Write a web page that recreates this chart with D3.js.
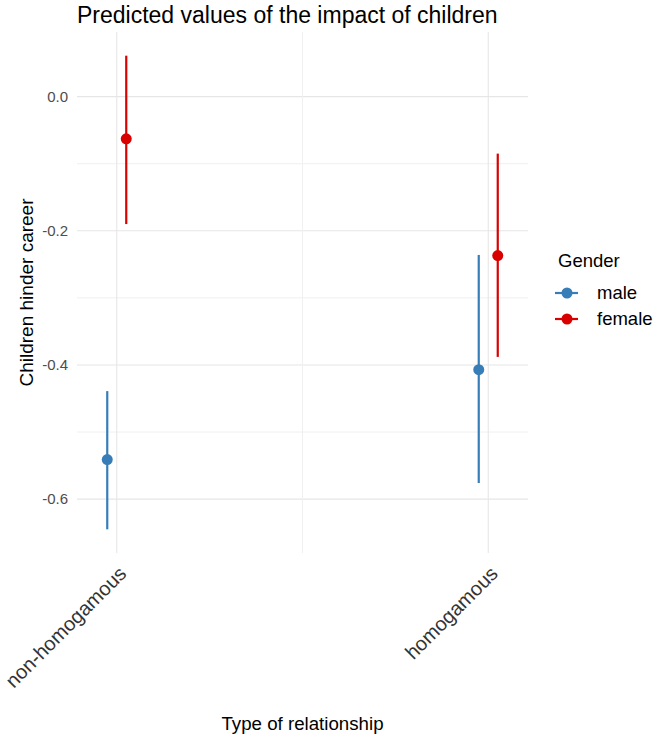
<!DOCTYPE html>
<html>
<head>
<meta charset="utf-8">
<script src="https://cdn.jsdelivr.net/npm/d3@7"></script>
<style>
  body { margin: 0; background: #fff; }
  text { font-family: "Liberation Sans", Arial, sans-serif; }
</style>
</head>
<body>
<div id="chart"></div>
<script>
// Data
const relTypes = ["non-homogamous", "homogamous"];
const genders = ["male", "female"];
const maleFit = [-0.541, -0.407];
const maleLow = [-0.645, -0.576];
const maleHigh = [-0.439, -0.236];
const femaleFit = [-0.063, -0.237];
const femaleLow = [-0.190, -0.388];
const femaleHigh = [0.061, -0.085];
const yTicks = [0, -0.2, -0.4, -0.6];
const yMinor = [-0.1, -0.3, -0.5];
const genderColors = ["#377eb8", "#d90000"];

const width = 660, height = 738;
const panel = { left: 77, right: 528, top: 32, bottom: 553 };

const svg = d3.select("#chart").append("svg")
    .attr("width", width)
    .attr("height", height);

// rows for drawing
const series = [
    { gender: "male", fit: maleFit, low: maleLow, high: maleHigh },
    { gender: "female", fit: femaleFit, low: femaleLow, high: femaleHigh }
];
const rows = series.flatMap(s => relTypes.map((r, i) => ({
    rel: r, gender: s.gender, fit: s.fit[i], low: s.low[i], high: s.high[i]
})));

const x = d3.scalePoint()
    .domain(relTypes)
    .range([panel.left, panel.right])
    .padding(0.107);

const dodge = d3.scalePoint()
    .domain(genders)
    .range([-9.5, 9.5]);

// 5% expansion like ggplot
const lo = d3.min(rows, d => d.low), hi = d3.max(rows, d => d.high);
const pad = (hi - lo) * 0.05;
const y = d3.scaleLinear()
    .domain([lo - pad, hi + pad])
    .range([panel.bottom, panel.top]);

const color = d3.scaleOrdinal().domain(genders).range(genderColors);

// grid
const grid = svg.append("g");
grid.selectAll(".ymin").data(yMinor).join("line")
    .attr("x1", panel.left).attr("x2", panel.right)
    .attr("y1", d => y(d)).attr("y2", d => y(d))
    .attr("stroke", "#f0f0f0").attr("stroke-width", 1);
grid.selectAll(".ymaj").data(yTicks).join("line")
    .attr("x1", panel.left).attr("x2", panel.right)
    .attr("y1", d => y(d)).attr("y2", d => y(d))
    .attr("stroke", "#e6e6e6").attr("stroke-width", 1.1);
// minor vertical line between categories
grid.append("line")
    .attr("x1", (x(relTypes[0]) + x(relTypes[1])) / 2)
    .attr("x2", (x(relTypes[0]) + x(relTypes[1])) / 2)
    .attr("y1", panel.top).attr("y2", panel.bottom)
    .attr("stroke", "#f0f0f0").attr("stroke-width", 1);
grid.selectAll(".xmaj").data(relTypes).join("line")
    .attr("x1", d => x(d)).attr("x2", d => x(d))
    .attr("y1", panel.top).attr("y2", panel.bottom)
    .attr("stroke", "#e6e6e6").attr("stroke-width", 1.1);

// y axis
const fmt = d => d3.format(".1f")(d).replace("\u2212", "-");
const yAxis = svg.append("g")
    .attr("transform", `translate(${panel.left},0)`)
    .call(d3.axisLeft(y).tickValues(yTicks).tickSize(0).tickPadding(9).tickFormat(fmt));
yAxis.select(".domain").remove();
yAxis.selectAll("text")
    .attr("fill", "#4d4d4d")
    .style("font-size", "15px")
    .style("font-family", "Liberation Sans, Arial, sans-serif");

// x tick labels, rotated
svg.append("g").selectAll("text").data(relTypes).join("text")
    .attr("transform", d => `translate(${x(d) + 1},${panel.bottom + 12}) rotate(-45)`)
    .attr("text-anchor", "end")
    .attr("dy", "0.7em")
    .attr("fill", "#333")
    .style("font-size", "20px")
    .text(d => d);

// error bars and points
const marks = svg.append("g");
marks.selectAll("line").data(rows).join("line")
    .attr("x1", d => x(d.rel) + dodge(d.gender))
    .attr("x2", d => x(d.rel) + dodge(d.gender))
    .attr("y1", d => y(d.low))
    .attr("y2", d => y(d.high))
    .attr("stroke", d => color(d.gender))
    .attr("stroke-width", 2.2);
marks.selectAll("circle").data(rows).join("circle")
    .attr("cx", d => x(d.rel) + dodge(d.gender))
    .attr("cy", d => y(d.fit))
    .attr("r", 5.5)
    .attr("fill", d => color(d.gender));

// titles
svg.append("text")
    .attr("x", panel.left)
    .attr("y", 23)
    .style("font-size", "23px")
    .attr("fill", "#000")
    .text("Predicted values of the impact of children");

svg.append("text")
    .attr("x", (panel.left + panel.right) / 2)
    .attr("y", 730)
    .attr("text-anchor", "middle")
    .style("font-size", "18.7px")
    .text("Type of relationship");

svg.append("text")
    .attr("transform", `translate(33,${(panel.top + panel.bottom) / 2}) rotate(-90)`)
    .attr("text-anchor", "middle")
    .style("font-size", "19px")
    .text("Children hinder career");

// legend
const legend = svg.append("g").attr("transform", "translate(558,0)");
legend.append("text")
    .attr("x", 0).attr("y", 267)
    .style("font-size", "18.5px")
    .text("Gender");
const item = legend.selectAll(".item").data(genders).join("g")
    .attr("transform", (d, i) => `translate(0,${293 + i * 26})`);
item.append("line")
    .attr("x1", -3).attr("x2", 20)
    .attr("stroke", d => color(d)).attr("stroke-width", 2.2);
item.append("circle")
    .attr("cx", 9).attr("r", 5.5)
    .attr("fill", d => color(d));
item.append("text")
    .attr("x", 39).attr("dy", "0.35em")
    .style("font-size", "18.5px")
    .text(d => d);
</script>
</body>
</html>
